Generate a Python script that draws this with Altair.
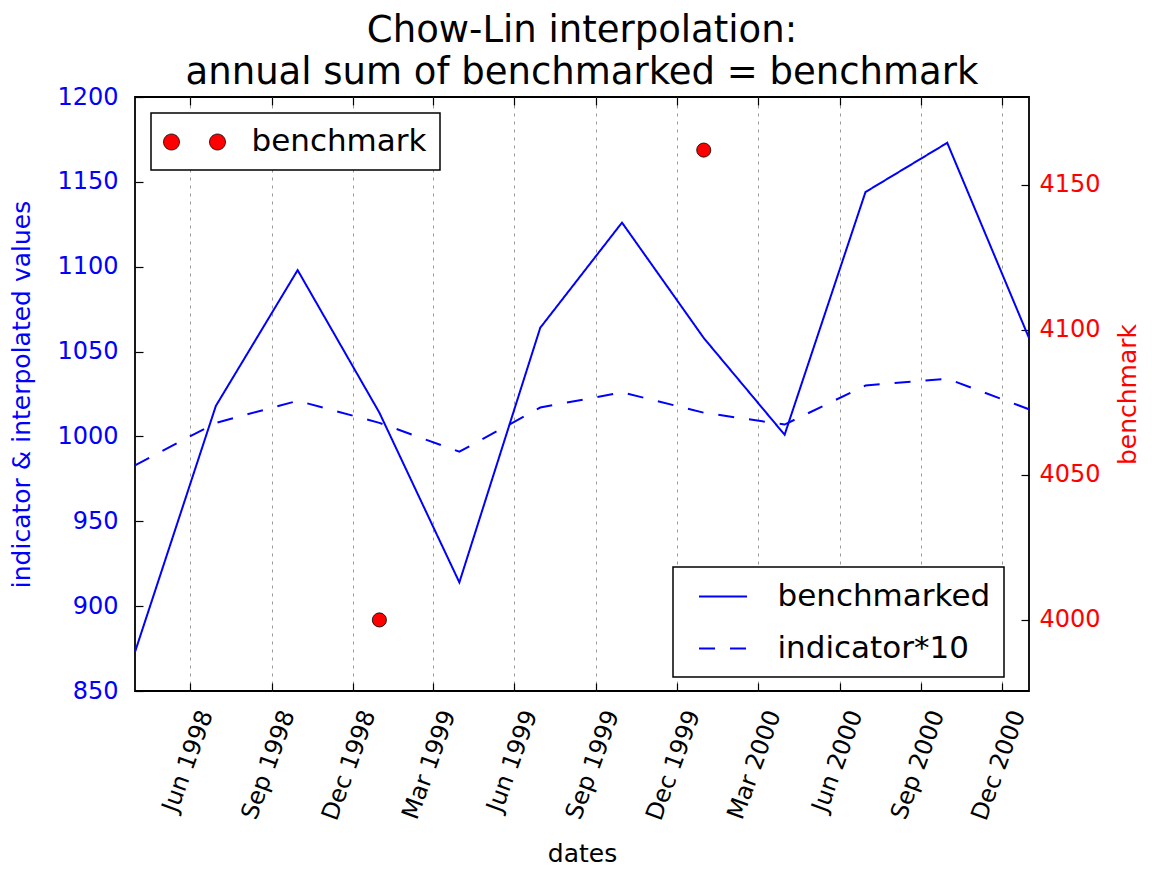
import altair as alt
import pandas as pd

# ---------------- data ----------------
quarters = ["1998-03-31", "1998-06-30", "1998-09-30", "1998-12-31",
            "1999-03-31", "1999-06-30", "1999-09-30", "1999-12-31",
            "2000-03-31", "2000-06-30", "2000-09-30", "2000-12-31"]
benchmarked = [873, 1018, 1098, 1014, 914, 1064, 1126, 1058, 1001, 1144, 1173, 1058]
indicator10 = [983, 1008, 1021, 1008, 991, 1017, 1026, 1014, 1007, 1030, 1034, 1016]
bench_dates = ["1998-12-31", "1999-12-31"]
bench_values = [4000, 4162]
tick_dates = ["1998-06-01", "1998-09-01", "1998-12-01", "1999-03-01", "1999-06-01",
              "1999-09-01", "1999-12-01", "2000-03-01", "2000-06-01", "2000-09-01",
              "2000-12-01"]
left_ticks = [850, 900, 950, 1000, 1050, 1100, 1150, 1200]
right_ticks = [4000, 4050, 4100, 4150]
left_domain = [850, 1200]
right_domain = [3975.5, 4180.3]
line_series = ["benchmarked", "indicator*10"]
title_lines = ["Chow-Lin interpolation:", "annual sum of benchmarked = benchmark"]

FONT = "DejaVu Sans"
BLUE = "#0000ff"
RED = "#ff0000"


def dt(s):
    y, m, d = (int(v) for v in s.split("-"))
    return alt.DateTime(year=y, month=m, date=d)


df_lines = pd.DataFrame({
    "date": pd.to_datetime(quarters * 2),
    "value": benchmarked + indicator10,
    "series": [line_series[0]] * len(quarters) + [line_series[1]] * len(quarters),
})
df_bench = pd.DataFrame({
    "date": pd.to_datetime(bench_dates),
    "value": bench_values,
    "series": ["benchmark"] * len(bench_dates),
})

x_scale = alt.Scale(domain=[dt(quarters[0]), dt(quarters[-1])])
tick_vals = [dt(s) for s in tick_dates]

# legend symbols (unit = sqrt(symbolSize)/2 = 15.5 px)
TWO_DOTS = ("M-0.968,0A0.516,0.516,0,1,1,-2,0A0.516,0.516,0,1,1,-0.968,0Z "
            "M2,0A0.516,0.516,0,1,1,0.968,0A0.516,0.516,0,1,1,2,0Z")
LINE_SYM = "M-1.548,0H1.548"

lines = alt.Chart(df_lines).mark_line(color=BLUE, strokeWidth=2).encode(
    x=alt.X("date:T", scale=x_scale, axis=alt.Axis(
        values=tick_vals, format="%b %Y", labelAngle=-70, labelAlign="right",
        labelBaseline="middle", labelFontSize=24, labelColor="black",
        labelPadding=20, labelOffset=16, labelFlush=False, labelOverlap=False,
        labelBound=False, tickSize=8, tickColor="black", tickWidth=1.2,
        offset=-8, domain=False, grid=True, gridColor="#999999",
        gridDash=[3, 5], gridWidth=1, title="dates", titleFontSize=25,
        titleFontWeight="normal", titleColor="black", titlePadding=18)),
    y=alt.Y("value:Q", scale=alt.Scale(domain=left_domain, nice=False, zero=False),
            axis=alt.Axis(values=left_ticks, format="d", labelFontSize=24,
                          labelColor=BLUE, labelPadding=17, labelFlush=False,
                          tickSize=8, tickColor="black", tickWidth=1.2, offset=-8,
                          domain=False, grid=False,
                          title="indicator & interpolated values",
                          titleFontSize=25, titleFontWeight="normal",
                          titleColor=BLUE, titlePadding=22)),
    strokeDash=alt.StrokeDash(
        "series:N",
        scale=alt.Scale(domain=line_series, range=[[1, 0], [16, 15]]),
        legend=alt.Legend(orient="none", legendX=538, legendY=470, title=None,
                          symbolType=LINE_SYM, symbolSize=961, symbolOffset=20.5,
                          symbolStrokeColor=BLUE, symbolStrokeWidth=2,
                          symbolFillColor="transparent",
                          labelFontSize=31, labelColor="black", labelOffset=38,
                          labelLimit=0, padding=13, rowPadding=20,
                          strokeColor="black", fillColor="white", cornerRadius=0)),
)

top_ticks = alt.Chart(df_lines).mark_point(opacity=0).encode(
    x=alt.X("date:T", scale=x_scale, axis=alt.Axis(
        orient="top", values=tick_vals, labels=False, domain=False, grid=False,
        tickSize=8, tickColor="black", tickWidth=1.2, offset=-8, title=None)),
    y=alt.Y("value:Q", axis=None),
)

points = alt.Chart(df_bench).mark_point(
    shape="circle", filled=True, size=200, opacity=1, stroke="black", strokeWidth=0.8
).encode(
    x=alt.X("date:T", scale=x_scale, axis=None),
    y=alt.Y("value:Q", scale=alt.Scale(domain=right_domain, nice=False, zero=False),
            axis=alt.Axis(orient="right", values=right_ticks, format="d",
                          labelFontSize=24, labelColor=RED, labelPadding=10,
                          labelFlush=False, tickSize=8, tickColor="black",
                          tickWidth=1.2, offset=-8, domain=False, grid=False,
                          title="benchmark", titleFontSize=25,
                          titleFontWeight="normal", titleColor=RED,
                          titleAngle=270, titlePadding=40)),
    fill=alt.Fill("series:N", scale=alt.Scale(domain=["benchmark"], range=[RED]),
                  legend=alt.Legend(orient="none", legendX=16, legendY=16, title=None,
                                    symbolType=TWO_DOTS, symbolSize=961,
                                    symbolOffset=14.5,
                                    symbolStrokeColor="black", symbolStrokeWidth=0.8,
                                    symbolFillColor=RED, symbolOpacity=1,
                                    labelFontSize=31, labelColor="black",
                                    labelOffset=41, labelLimit=0, padding=13,
                                    strokeColor="black", fillColor="white",
                                    cornerRadius=0)),
)

chart = alt.layer(lines, top_ticks, points).resolve_scale(
    y="independent"
).resolve_axis(
    x="independent"
).resolve_legend(
    fill="independent", strokeDash="independent"
).properties(
    width=894, height=594,
    autosize=alt.AutoSizeParams(type="none"),
    padding={"left": 127, "top": 89, "right": 115, "bottom": 178},
    title=alt.TitleParams(text=title_lines, fontSize=37, font=FONT,
                          fontWeight="normal", color="black", anchor="middle",
                          lineHeight=42, offset=-7),
).configure_view(
    stroke="black", strokeWidth=1.8
).configure_axis(
    labelFont=FONT, titleFont=FONT
).configure_legend(
    labelFont=FONT, strokeWidth=1.5
)

chart.save("out.html", embed_options={"renderer": "svg", "actions": False})
